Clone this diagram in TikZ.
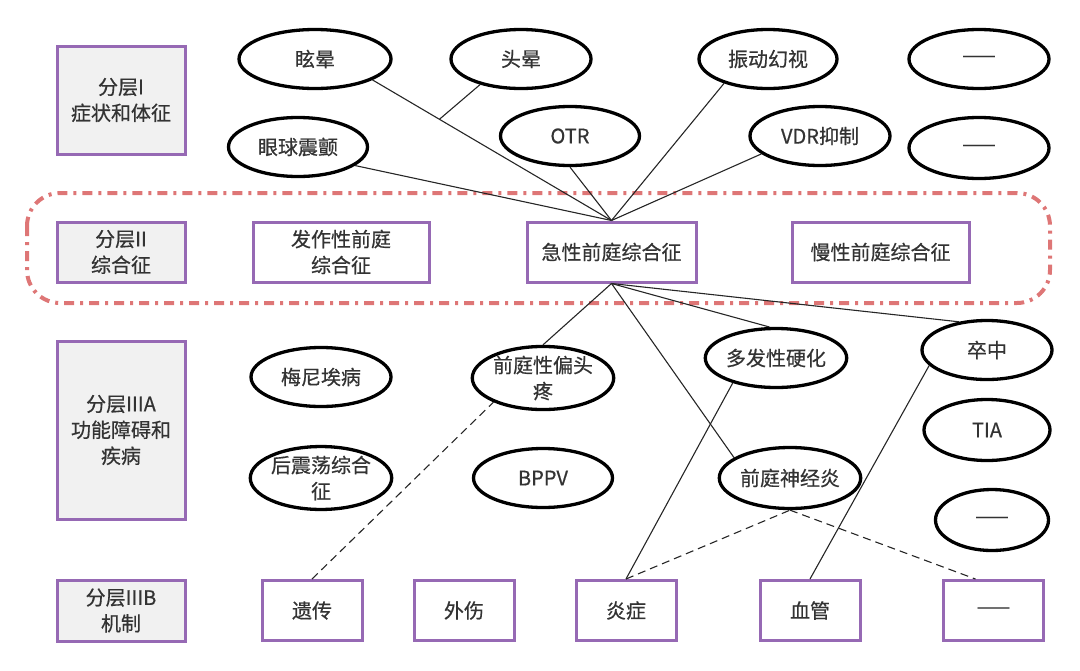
\documentclass[tikz,border=0pt]{standalone}
\usepackage{fontspec}
\setmainfont{Noto Sans CJK SC}[FakeBold=0.5]
\usetikzlibrary{shapes.geometric,calc}
\definecolor{zise}{RGB}{150,105,180}
\definecolor{huise}{RGB}{241,241,241}
\definecolor{hongse}{RGB}{222,118,118}
\definecolor{wenzi}{RGB}{51,51,51}

\begin{document}
\begin{tikzpicture}[x=1pt,y=-1pt,
    every node/.style={font=\fontsize{20}{26}\selectfont,text=wenzi,align=center},
    fenceng/.style={draw=zise,fill=huise,line width=3pt,minimum width=128pt,inner sep=0pt},
    kuang/.style={draw=zise,fill=white,line width=3pt,minimum width=100pt,minimum height=60pt,inner sep=0pt},
    tuoyuan/.style={ellipse,draw=black,fill=white,line width=3.3pt,minimum width=140pt,minimum height=59pt,inner sep=0pt},
    lianxian/.style={line width=1.1pt,draw=black!85},
    xuxian/.style={lianxian,dash pattern=on 8pt off 5pt}]
        \useasboundingbox (0,0) rectangle (1080,670);
        \draw[hongse,line width=4pt,dash pattern=on 10pt off 6pt on 3pt off 6pt,rounded corners=33pt] (27,193) rectangle (1050,303);

        \node[fenceng,minimum height=108pt] (fc1) at (121,100) {分层I\\症状和体征};
        \node[fenceng,minimum height=60pt] (fc2) at (121,252) {分层II\\综合征};
        \node[fenceng,minimum height=178pt] (fc3a) at (121,430) {分层IIIA\\功能障碍和\\疾病};
        \node[fenceng,minimum height=61pt] (fc3b) at (121,610.5) {分层IIIB\\机制};

        \node[tuoyuan,minimum width=152pt] (xuanyun) at (315,59) {眩晕};
        \node[tuoyuan] (touyun) at (521,59) {头晕};
        \node[tuoyuan,minimum width=138pt] (zhendong) at (768,59) {振动幻视};
        \node[tuoyuan] (kong1) at (979,59) {——};
        \node[tuoyuan,minimum width=139pt] (yanqiu) at (298,147) {眼球震颤};
        \node[tuoyuan,minimum width=139pt] (otr) at (570,136) {OTR};
        \node[tuoyuan] (vdr) at (820,136) {VDR抑制};
        \node[tuoyuan,minimum height=61pt] (kong2) at (979,148) {——};

        \node[kuang,minimum width=176pt] (fazuo) at (341,252) {发作性前庭\\综合征};
        \node[kuang,minimum width=169pt] (jixing) at (611.5,252) {急性前庭综合征};
        \node[kuang,minimum width=177pt] (manxing) at (880.5,252) {慢性前庭综合征};

        \node[tuoyuan] (meini) at (321,377) {梅尼埃病};
        \node[tuoyuan,minimum width=139pt] (piantou) at (543,378) {前庭性偏头\\疼};
        \node[tuoyuan] (duofa) at (776,358) {多发性硬化};
        \node[tuoyuan,minimum width=130pt] (zuzhong) at (987,350) {卒中};
        \node[tuoyuan,minimum height=61pt] (zhendang) at (321,478) {后震荡综合\\征};
        \node[tuoyuan,minimum width=139pt] (bppv) at (543,478) {BPPV};
        \node[tuoyuan,minimum width=139pt,minimum height=61pt] (shenjing) at (790,478) {前庭神经炎};
        \node[tuoyuan,minimum width=126pt,minimum height=61pt] (tia) at (987,430) {TIA};
        \node[tuoyuan,minimum width=113pt,minimum height=61pt] (kong3) at (992,520) {——};

        \node[kuang] (yichuan) at (312,610.5) {遗传};
        \node[kuang] (waishang) at (464,610.5) {外伤};
        \node[kuang] (yanzheng) at (626,610.5) {炎症};
        \node[kuang] (xueguan) at (810,610.5) {血管};
        \node[kuang] (kong4) at (993.5,610.5) {——};

        \coordinate (huiju) at ($(xuanyun.340)!0.28!(jixing.north)$);
        \draw[lianxian] (xuanyun.340) -- (jixing.north);
        \draw[lianxian] (touyun.212) -- (huiju);
        \draw[lianxian] (yanqiu.342) -- (jixing.north);
        \draw[lianxian] (otr.south) -- (jixing.north);
        \draw[lianxian] (zhendong.209) -- (jixing.north);
        \draw[lianxian] (vdr.197) -- (jixing.north);

        \draw[lianxian] (jixing.south) -- (piantou.north);
        \draw[lianxian] (jixing.south) -- (duofa.102);
        \draw[lianxian] (jixing.south) -- (shenjing.160);
        \draw[lianxian] (jixing.south) -- (zuzhong.135);

        \draw[lianxian] (yanzheng.north) -- (duofa.210);
        \draw[lianxian] (xueguan.north) -- (zuzhong.195);
        \draw[xuxian] (yichuan.north) -- (piantou.206);
        \draw[xuxian] (yanzheng.north) -- (shenjing.south);
        \draw[xuxian] (shenjing.south) -- ($(kong4.north)!0.35!(kong4.north west)$);
    \end{tikzpicture}
\end{document}
